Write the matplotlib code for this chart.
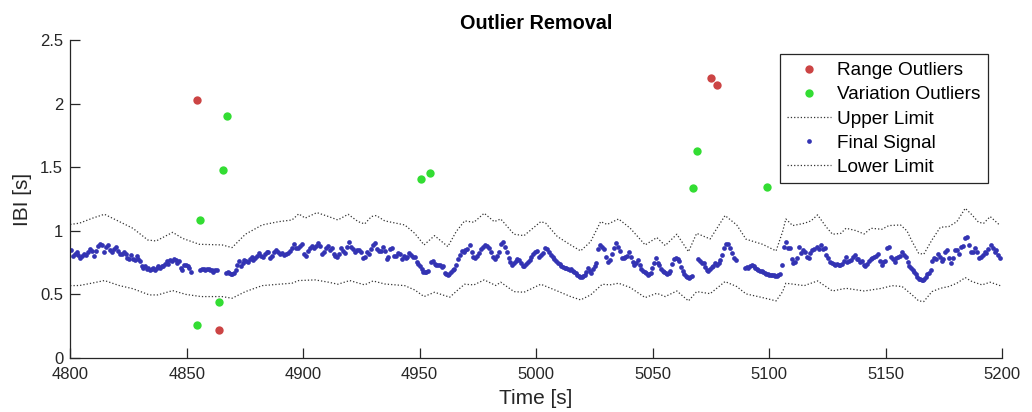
import numpy as np
import matplotlib
matplotlib.use('Agg')
import matplotlib.pyplot as plt
from matplotlib.ticker import FuncFormatter, MultipleLocator

plt.rcParams['font.family'] = ['Liberation Sans', 'DejaVu Sans']

# Final signal: IBI values [s] per continuous segment, beat times follow from the IBIs
seg_starts = [4800.3, 4855.9, 4867.0, 4955.0, 5069.6, 5089.7]

seg_a = [0.85, 0.80, 0.82, 0.83, 0.81, 0.79, 0.80, 0.82, 0.81, 0.83,
         0.86, 0.84, 0.80, 0.84, 0.88, 0.90, 0.89, 0.83, 0.87, 0.89,
         0.85, 0.83, 0.86, 0.87, 0.84, 0.82, 0.82, 0.83, 0.82, 0.79,
         0.78, 0.81, 0.78, 0.77, 0.80, 0.78, 0.76, 0.72, 0.71, 0.72,
         0.70, 0.71, 0.69, 0.70, 0.71, 0.69, 0.71, 0.72, 0.71, 0.72,
         0.72, 0.74, 0.76, 0.74, 0.77, 0.76, 0.78, 0.77, 0.75, 0.76, 0.71, 0.69,
         0.73, 0.73, 0.72, 0.71, 0.68]

seg_b = [0.69, 0.70, 0.70, 0.69, 0.70, 0.70, 0.69, 0.69, 0.68, 0.69, 0.69]

seg_c = [0.665, 0.675, 0.666, 0.66, 0.658, 0.67, 0.69, 0.73, 0.765, 0.727,
         0.745, 0.77, 0.76, 0.753, 0.78, 0.797, 0.77, 0.79, 0.80, 0.823,
         0.805, 0.797, 0.82, 0.836, 0.836, 0.79, 0.805, 0.83, 0.849, 0.832,
         0.815, 0.823, 0.81, 0.815, 0.823, 0.84, 0.862, 0.894, 0.862, 0.868,
         0.88, 0.894, 0.815, 0.80, 0.84, 0.868, 0.884, 0.862, 0.88, 0.901,
         0.884, 0.815, 0.832, 0.862, 0.884, 0.849, 0.862, 0.815,
         0.80, 0.797, 0.815, 0.862, 0.84, 0.823, 0.875, 0.915, 0.875, 0.857,
         0.83, 0.85, 0.849, 0.832, 0.79, 0.797, 0.832, 0.815, 0.857, 0.888,
         0.901, 0.857, 0.84, 0.84, 0.875, 0.84, 0.78, 0.797, 0.857, 0.868,
         0.805, 0.805, 0.823, 0.815, 0.78, 0.80, 0.79, 0.797, 0.823, 0.81,
         0.797, 0.797, 0.757, 0.737, 0.727, 0.70, 0.679, 0.679, 0.674, 0.685]

seg_d = [0.757, 0.76, 0.74, 0.73, 0.73, 0.735, 0.718, 0.72, 0.665, 0.66,
         0.655, 0.66, 0.675, 0.69, 0.70, 0.73, 0.78, 0.81, 0.84, 0.836,
         0.849, 0.857, 0.888, 0.836, 0.797,
         0.784, 0.80, 0.823, 0.857, 0.875, 0.888, 0.884, 0.862, 0.836, 0.797,
         0.78, 0.80, 0.836, 0.894, 0.91, 0.87, 0.832, 0.784, 0.757, 0.731,
         0.744, 0.763, 0.78, 0.77, 0.75, 0.727, 0.727, 0.737, 0.757, 0.77,
         0.797, 0.815, 0.832, 0.84, 0.797, 0.81, 0.823, 0.862, 0.857, 0.83,
         0.81, 0.797, 0.78, 0.763, 0.744, 0.737, 0.727, 0.718, 0.71, 0.705,
         0.70, 0.692, 0.70, 0.685, 0.679, 0.666, 0.653, 0.647, 0.64, 0.639,
         0.645, 0.653, 0.674, 0.71, 0.685, 0.666, 0.70, 0.72, 0.744, 0.857,
         0.888, 0.87, 0.857, 0.797, 0.757,
         0.77, 0.82, 0.862, 0.901, 0.875, 0.84, 0.784, 0.79, 0.797, 0.805,
         0.832, 0.797, 0.757, 0.731, 0.744, 0.77, 0.731, 0.70, 0.685, 0.675,
         0.666, 0.653, 0.66, 0.666, 0.705, 0.744, 0.784, 0.744, 0.731, 0.70,
         0.685, 0.674, 0.665, 0.658, 0.666, 0.685, 0.737, 0.78, 0.79, 0.78,
         0.763, 0.718, 0.685, 0.658, 0.647, 0.635, 0.631, 0.639, 0.645]

seg_e = [0.78, 0.763, 0.75, 0.744, 0.718, 0.692, 0.685, 0.70, 0.715, 0.727,
         0.744, 0.731, 0.75, 0.77, 0.81, 0.868, 0.894, 0.894, 0.868, 0.823,
         0.784, 0.77]

seg_f = [0.711, 0.718, 0.711, 0.72, 0.731, 0.727, 0.71, 0.70, 0.692, 0.685,
         0.685, 0.679, 0.67, 0.66, 0.658, 0.655, 0.653, 0.65, 0.65, 0.647,
         0.647, 0.65, 0.658,
         0.731, 0.875, 0.915, 0.868, 0.862, 0.78, 0.744, 0.757, 0.79, 0.875,
         0.823, 0.849, 0.83, 0.797, 0.79, 0.823, 0.849, 0.86, 0.875, 0.857,
         0.888, 0.857, 0.868, 0.81, 0.784, 0.757, 0.744, 0.74, 0.731, 0.737,
         0.735, 0.731, 0.737, 0.763, 0.797, 0.757, 0.763, 0.77, 0.797, 0.81,
         0.78, 0.78, 0.753, 0.76, 0.731, 0.727, 0.737, 0.763, 0.78, 0.79,
         0.797, 0.80, 0.815, 0.763, 0.731, 0.757,
         0.763, 0.868, 0.875, 0.797, 0.78, 0.757, 0.79, 0.795, 0.805, 0.836,
         0.81, 0.797, 0.757, 0.727, 0.711, 0.695, 0.679, 0.658, 0.639, 0.625,
         0.62, 0.613, 0.615, 0.62, 0.639, 0.658, 0.666, 0.692, 0.763, 0.79,
         0.78, 0.815, 0.797, 0.763, 0.78, 0.836, 0.849, 0.79, 0.744, 0.79,
         0.849, 0.849, 0.815, 0.875, 0.884, 0.942, 0.955, 0.888, 0.832, 0.836,
         0.868, 0.832, 0.79, 0.797, 0.81, 0.832, 0.823, 0.857, 0.888, 0.868,
         0.836, 0.849, 0.81, 0.79]

segments = [seg_a, seg_b, seg_c, seg_d, seg_e, seg_f]

# Limits
up_t = [4800.0, 4804.0, 4809.7, 4814.7, 4819.7, 4826.9, 4833.3, 4836.9, 4844.0, 4848.3,
        4855.4, 4865.2, 4869.5, 4875.2, 4882.4, 4889.5, 4895.2, 4898.1, 4900.9, 4905.9,
        4910.9, 4914.9, 4919.3, 4923.6, 4926.4, 4929.3, 4931.4, 4935.0, 4943.6, 4947.9,
        4951.9, 4956.4, 4962.1, 4965.7, 4969.3, 4973.3, 4977.7, 4982.0, 4984.8, 4990.5,
        4994.8, 5002.0, 5004.1, 5009.1, 5014.8, 5019.1, 5023.4, 5027.7, 5030.5, 5035.4,
        5040.4, 5046.8, 5051.8, 5055.4, 5060.4, 5065.4, 5068.9, 5074.7, 5081.1, 5086.1,
        5090.1, 5097.2, 5103.0, 5105.8, 5107.2, 5110.1, 5115.1, 5118.0, 5120.8, 5124.4,
        5127.2, 5130.8, 5133.0, 5137.2, 5140.8, 5143.7, 5148.4, 5151.4, 5156.4, 5159.2,
        5161.4, 5164.2, 5166.4, 5169.9, 5173.5, 5177.1, 5180.6, 5184.2, 5187.1, 5189.9,
        5192.1, 5194.9, 5199.2]
up_v = [1.05, 1.06, 1.10, 1.13, 1.085, 1.02, 0.928, 0.92, 0.988, 0.94,
        0.894, 0.889, 0.868, 0.973, 1.046, 1.072, 1.085, 1.133, 1.10, 1.143,
        1.112, 1.085, 1.13, 1.072, 1.054, 1.112, 1.12, 1.078, 1.046, 0.98,
        0.889, 0.962, 0.876, 0.994, 1.078, 1.067, 1.138, 1.072, 1.093, 0.973,
        0.962, 1.072, 1.06, 0.955, 0.889, 0.842, 0.915, 1.072, 1.05, 1.093,
        1.02, 0.889, 0.947, 0.884, 0.973, 0.836, 0.98, 0.936, 1.12, 1.046,
        0.934, 0.894, 0.842, 0.994, 1.093, 1.041, 1.059, 1.078, 1.125, 1.033,
        0.973, 0.98, 1.02, 1.002, 0.975, 1.02, 1.012, 1.041, 1.046, 0.999,
        0.915, 0.823, 0.816, 0.928, 1.028, 1.033, 1.072, 1.177, 1.125, 1.067,
        1.059, 1.112, 1.041]

lo_t = [4800.0, 4804.0, 4809.7, 4814.7, 4821.2, 4826.9, 4834.0, 4837.6, 4844.0, 4849.7,
        4856.2, 4865.2, 4869.5, 4875.2, 4882.4, 4889.5, 4895.2, 4898.1, 4905.2, 4910.9,
        4914.9, 4920.0, 4926.4, 4930.0, 4935.0, 4943.6, 4947.9, 4951.9, 4956.4, 4962.9,
        4966.4, 4969.3, 4973.3, 4977.7, 4982.7, 4984.8, 4990.5, 4994.8, 5002.0, 5009.1,
        5014.8, 5019.1, 5023.4, 5028.4, 5031.7, 5035.4, 5040.4, 5046.8, 5051.8, 5055.4,
        5060.4, 5065.4, 5068.9, 5074.7, 5081.1, 5086.1, 5090.1, 5097.2, 5103.0, 5105.8,
        5107.2, 5115.1, 5120.8, 5127.2, 5133.0, 5140.8, 5148.4, 5152.8, 5157.1, 5161.4,
        5164.2, 5166.4, 5169.9, 5173.5, 5177.1, 5180.6, 5184.2, 5187.1, 5191.4, 5194.9,
        5199.2]
lo_v = [0.569, 0.57, 0.59, 0.609, 0.569, 0.545, 0.496, 0.496, 0.53, 0.50,
        0.483, 0.483, 0.47, 0.522, 0.569, 0.58, 0.588, 0.609, 0.614, 0.596,
        0.58, 0.609, 0.575, 0.606, 0.582, 0.569, 0.535, 0.483, 0.517, 0.478,
        0.535, 0.58, 0.575, 0.614, 0.57, 0.596, 0.522, 0.517, 0.58, 0.527,
        0.483, 0.457, 0.496, 0.58, 0.575, 0.588, 0.554, 0.475, 0.509, 0.483,
        0.527, 0.449, 0.522, 0.506, 0.601, 0.562, 0.504, 0.475, 0.449, 0.522,
        0.588, 0.569, 0.606, 0.527, 0.548, 0.527, 0.548, 0.569, 0.562, 0.496,
        0.449, 0.444, 0.522, 0.548, 0.562, 0.588, 0.632, 0.601, 0.575, 0.596,
        0.569]

# Outliers
range_t = [4854.4, 4863.8, 5075.1, 5077.7]
range_v = [2.03, 0.223, 2.20, 2.146]
var_t = [4854.5, 4855.7, 4863.7, 4865.4, 4867.2, 4950.6, 4954.5, 5067.4, 5069.1, 5099.3]
var_v = [0.262, 1.087, 0.44, 1.478, 1.902, 1.407, 1.454, 1.336, 1.627, 1.347]

sig_t = []
sig_v = []
for start, ibi in zip(seg_starts, segments):
    ibi = np.asarray(ibi)
    sig_t.append(start + np.cumsum(ibi) - ibi[0])
    sig_v.append(ibi)
sig_t = np.concatenate(sig_t)
sig_v = np.concatenate(sig_v)

axis_col = '#262626'

fig, ax = plt.subplots(figsize=(10.32, 4.12), dpi=100)
fig.subplots_adjust(left=0.068, right=0.971, bottom=0.131, top=0.903)

h_range, = ax.plot(range_t, range_v, 'o', ls='none', color='#cc4444', ms=6, mew=0, label='Range Outliers')
h_var, = ax.plot(var_t, var_v, 'o', ls='none', color='#33dd33', ms=6, mew=0, label='Variation Outliers')
h_up, = ax.plot(up_t, up_v, ls=':', color='#333333', lw=0.9, label='Upper Limit')
h_sig, = ax.plot(sig_t, sig_v, 'o', ls='none', color='#3333b3', ms=3.4, mew=0, label='Final Signal')
h_lo, = ax.plot(lo_t, lo_v, ls=':', color='#333333', lw=0.9, label='Lower Limit')

ax.set_xlim(4800, 5200)
ax.set_ylim(0, 2.5)
ax.xaxis.set_major_locator(MultipleLocator(50))
ax.yaxis.set_major_locator(MultipleLocator(0.5))
ax.yaxis.set_major_formatter(FuncFormatter(lambda v, p: f'{v:g}'))

for s in ['top', 'right']:
    ax.spines[s].set_visible(False)
for s in ['left', 'bottom']:
    ax.spines[s].set_color(axis_col)
    ax.spines[s].set_linewidth(0.9)
ax.tick_params(direction='in', length=7, width=0.9, colors=axis_col, labelsize=12)
ax.tick_params(axis='x', pad=6.5)
ax.tick_params(axis='y', pad=5)

ax.set_title('Outlier Removal', fontsize=14.3, fontweight='bold', pad=8)
ax.set_xlabel('Time [s]', fontsize=15, color=axis_col, labelpad=5)
ax.set_ylabel('IBI [s]', fontsize=15, color=axis_col, labelpad=6)

leg = ax.legend(handles=[h_range, h_var, h_up, h_sig, h_lo], loc='upper right',
                fontsize=13.7, frameon=True, fancybox=False, framealpha=1,
                edgecolor=axis_col, handlelength=2.3, handletextpad=0.3,
                borderpad=0.4, labelspacing=0.36, borderaxespad=0.75, numpoints=1)
leg.get_frame().set_linewidth(0.9)

fig.savefig('out.png', dpi=100)
